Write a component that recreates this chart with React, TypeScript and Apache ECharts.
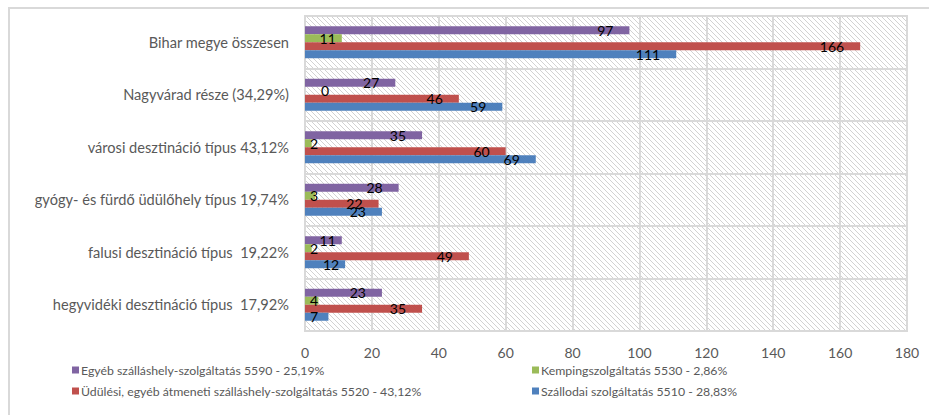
import React, { useEffect, useRef } from "react";
import * as echarts from "echarts";

const categories = [
  "Bihar megye összesen",
  "Nagyvárad része (34,29%)",
  "városi desztináció típus 43,12%",
  "gyógy- és fürdő üdülőhely típus 19,74%",
  "falusi desztináció típus  19,22%",
  "hegyvidéki desztináció típus  17,92%",
];

const seriesNames = [
  "Egyéb szálláshely-szolgáltatás 5590 - 25,19%",
  "Kempingszolgáltatás 5530 - 2,86%",
  "Üdülési, egyéb átmeneti szálláshely-szolgáltatás 5520 - 43,12%",
  "Szállodai szolgáltatás 5510 - 28,83%",
];

const egyeb = [97, 27, 35, 28, 11, 23];
const kemping = [11, 0, 2, 3, 2, 4];
const udulesi = [166, 46, 60, 22, 49, 35];
const szallodai = [111, 59, 69, 23, 12, 7];

const xTicks = [0, 20, 40, 60, 80, 100, 120, 140, 160, 180];

const colors = ["#8064A2", "#9BBB59", "#C0504D", "#4F81BD"];

const FONT = "Lato, 'Liberation Sans', sans-serif";

function labelFor(v: number) {
  if (v >= 20) return { position: "insideRight", distance: 16 };
  if (v >= 8) return { position: "insideRight", distance: 6 };
  return { position: "insideLeft", distance: v === 0 ? 16 : 5 };
}

const tile =
  "<svg xmlns='http://www.w3.org/2000/svg' width='5' height='5'>" +
  "<path d='M-1,-1 L6,6 M-1,4 L1,6 M4,-1 L6,1' stroke='#d2d2d2' stroke-width='1'/></svg>";
const tileUrl = "data:image/svg+xml;charset=utf-8," + encodeURIComponent(tile);

const legendText = {
  fontSize: 12.3,
  lineHeight: 14,
  color: "#595959",
  fontFamily: FONT,
  padding: [0, 0, 0, -3],
};

export default function App() {
  const ref = useRef<HTMLDivElement>(null);
  useEffect(() => {
    if (!ref.current) return;
    const chart = echarts.init(ref.current, undefined, { renderer: "svg" });
    const all = [egyeb, kemping, udulesi, szallodai];
    chart.setOption({
      animation: false,
      textStyle: { fontFamily: FONT },
      grid: {
        left: 305,
        right: 22,
        top: 16,
        bottom: 84,
        show: true,
        borderColor: "#d9d9d9",
        borderWidth: 2,
        backgroundColor: { image: tileUrl, repeat: "repeat", imageWidth: 5, imageHeight: 5 },
      },
      legend: [
        {
          data: [seriesNames[0], seriesNames[2]],
          orient: "vertical",
          left: 72,
          top: 363,
          itemWidth: 7,
          itemHeight: 7,
          itemGap: 7,
          icon: "rect",
          padding: 0,
          textStyle: legendText,
        },
        {
          data: [seriesNames[1], seriesNames[3]],
          orient: "vertical",
          left: 532,
          top: 363,
          itemWidth: 7,
          itemHeight: 7,
          itemGap: 7,
          icon: "rect",
          padding: 0,
          textStyle: legendText,
        },
      ],
      xAxis: {
        type: "value",
        min: 0,
        max: 180,
        interval: 20,
        axisLine: { show: false },
        axisTick: { show: false },
        axisLabel: {
          fontSize: 14,
          color: "#595959",
          margin: 14,
          fontFamily: FONT,
          formatter: (v: number) => (xTicks.includes(v) ? String(v) : ""),
        },
        splitLine: { show: true, lineStyle: { color: "#d9d9d9", width: 2 } },
      },
      yAxis: {
        type: "category",
        data: categories,
        inverse: true,
        axisLine: { show: false },
        axisTick: { show: false },
        axisLabel: { fontSize: 14.6, color: "#595959", margin: 16, fontFamily: FONT },
        splitLine: { show: true, lineStyle: { color: "#d9d9d9", width: 2 } },
      },
      series: all.map((arr, i) => ({
        name: seriesNames[i],
        type: "bar",
        barWidth: 8,
        barGap: "0%",
        itemStyle: { color: colors[i] },
        label: {
          show: true,
          color: "#000",
          fontSize: 14,
          fontFamily: FONT,
        },
        data: arr.map((v) => ({ value: v, label: labelFor(v) })),
      })),
    });
    return () => chart.dispose();
  }, []);
  return (
    <div style={{ position: "absolute", left: 0, top: 0, width: 929, height: 415, background: "#fff" }}>
      <div
        style={{
          position: "absolute",
          left: 8,
          top: 7,
          width: 929,
          height: 415,
          borderTop: "2px solid #d9d9d9",
          borderLeft: "2px solid #d9d9d9",
        }}
      />
      <div ref={ref} style={{ position: "absolute", left: 0, top: 0, width: 929, height: 415 }} />
    </div>
  );
}
